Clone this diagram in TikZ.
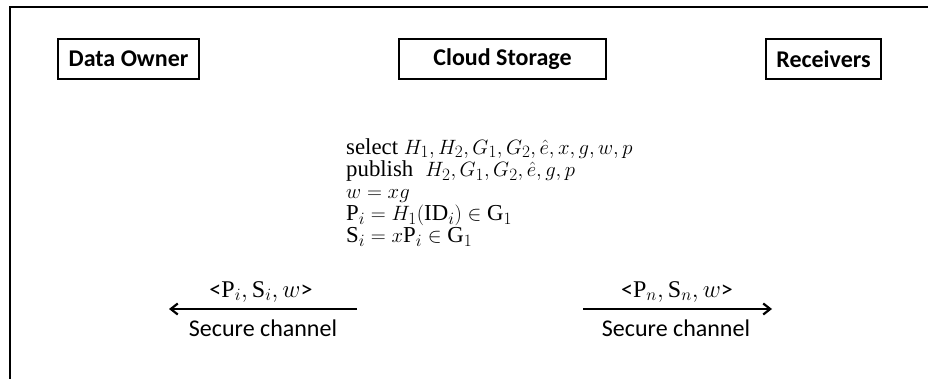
\documentclass[tikz,border=0pt]{standalone}
\usepackage{fontspec}
\setmainfont{Liberation Serif}
\newfontfamily\calfont{Carlito}
\usetikzlibrary{arrows.meta}
\begin{document}
\begin{tikzpicture}[x=1pt,y=-1pt,
  party/.style={draw,line width=2pt,minimum height=40pt,inner sep=0pt,
    font=\calfont\bfseries\fontsize{24}{24}\selectfont},
  mathline/.style={anchor=base west,inner sep=0pt,font=\fontsize{22.8}{22}\selectfont},
  chan/.style={line width=2.6pt,-{Straight Barb[length=7pt,width=11pt,line width=2.2pt]}},
  chanlabel/.style={anchor=base,inner sep=0pt,font=\calfont\fontsize{24}{24}\selectfont}]
\useasboundingbox (0,0) rectangle (928,378);
\draw[line width=2.2pt] (10,380) -- (10,7) -- (930,7);
\node[party,minimum width=141pt] (owner) at (128.5,59) {Data Owner};
\node[party,minimum width=207pt] (cloud) at (502.5,59) {Cloud Storage};
\node[party,minimum width=115pt] (recv) at (823.5,59) {Receivers};
\node[mathline] (l1) at (346,154) {select $H_1,H_2,G_1,G_2,\hat{e},x,g,w,p$};
\node[mathline] (l2) at (346,176) {publish\; $H_2,G_1,G_2,\hat{e},g,p$};
\node[mathline] (l3) at (346,198) {$w=xg$};
\node[mathline] (l4) at (346,220) {$\mathrm{P}_i=H_1(\mathrm{ID}_i)\in\mathrm{G}_1$};
\node[mathline] (l5) at (346,242) {$\mathrm{S}_i=x\mathrm{P}_i\in\mathrm{G}_1$};
\coordinate (a1s) at (357,309);
\coordinate (a1e) at (169,309);
\coordinate (a2s) at (583,309);
\coordinate (a2e) at (772,309);
\draw[chan] (a1s) -- (a1e);
\draw[chan] (a2s) -- (a2e);
\node[chanlabel] (t1) at (261,297) {<$\mathrm{P}_i,\mathrm{S}_i,w$>};
\node[chanlabel] (s1) at (263,336) {Secure channel};
\node[chanlabel] (t2) at (677,297) {<$\mathrm{P}_n,\mathrm{S}_n,w$>};
\node[chanlabel] (s2) at (676,336) {Secure channel};
\end{tikzpicture}
\end{document}
